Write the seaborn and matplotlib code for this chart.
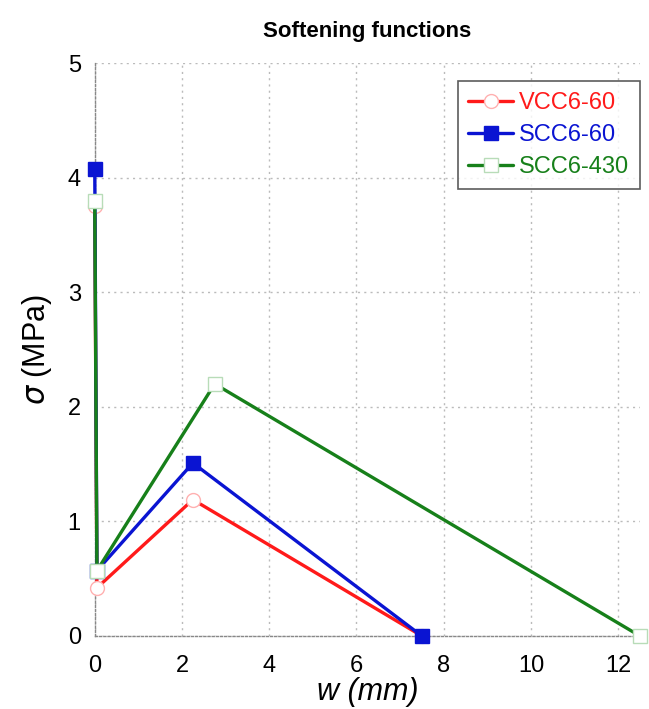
import matplotlib
matplotlib.use("Agg")
import matplotlib.pyplot as plt
import seaborn as sns
import pandas as pd

# Data
series_names = ["VCC6-60", "SCC6-60", "SCC6-430"]
w_vcc = [0.0, 0.05, 2.25, 7.5]
s_vcc = [3.75, 0.42, 1.19, 0.0]
w_scc60 = [0.0, 0.05, 2.25, 7.5]
s_scc60 = [4.08, 0.57, 1.51, 0.0]
w_scc430 = [0.0, 0.05, 2.75, 12.5]
s_scc430 = [3.80, 0.57, 2.20, 0.0]
x_ticks = [0, 2, 4, 6, 8, 10, 12]
y_ticks = [0, 1, 2, 3, 4, 5]

sns.set_theme(style="white")
plt.rcParams['font.family'] = ['Liberation Sans', 'DejaVu Sans']
plt.rcParams['text.color'] = 'black'
plt.rcParams['axes.labelcolor'] = 'black'

fig = plt.figure(figsize=(6.49, 7.09), dpi=100)
ax = fig.add_axes([0.146, 0.103, 0.84, 0.808])

styles = [
    dict(color="#ff1a1a", marker="o", mfc="white", mec="#ffb0b0"),
    dict(color="#0a14d2", marker="s", mfc="#0a14d2", mec="#0a14d2"),
    dict(color="#17801a", marker="s", mfc="white", mec="#b8dcb8"),
]
data = [(w_vcc, s_vcc), (w_scc60, s_scc60), (w_scc430, s_scc430)]

for name, (wx, sy), st in zip(series_names, data, styles):
    df = pd.DataFrame({"w": wx, "s": sy})
    sns.lineplot(data=df, x="w", y="s", ax=ax, sort=False, estimator=None,
                 color=st["color"], linewidth=2.4, marker=st["marker"],
                 markersize=10, markerfacecolor=st["mfc"],
                 markeredgecolor=st["mec"], markeredgewidth=1.0,
                 label=name, clip_on=False, zorder=3)

ax.set_xlim(0, 12.5)
ax.set_ylim(0, 5)
ax.set_xticks(x_ticks)
ax.set_yticks(y_ticks)
ax.tick_params(axis="both", labelsize=17, length=0, colors="black")
ax.tick_params(axis="x", pad=14)
ax.tick_params(axis="y", pad=10)
ax.grid(True, linestyle=(0, (1.5, 3)), color="#bbbbbb", linewidth=1.0)
for sp in ["top", "right"]:
    ax.spines[sp].set_visible(False)
for sp in ["left", "bottom"]:
    ax.spines[sp].set_linestyle((0, (1.5, 1.5)))
    ax.spines[sp].set_color("#888888")
    ax.spines[sp].set_linewidth(1.0)

ax.set_xlabel("w (mm)", fontsize=22, fontstyle="italic", labelpad=0)
ax.set_ylabel(r"$\it{\sigma}$ (MPa)", fontsize=22, labelpad=10)
ax.set_title("Softening functions", fontsize=16, fontweight="bold", pad=19,
             color="black")

leg = ax.legend(loc="upper right", fontsize=17, frameon=True, fancybox=False,
                edgecolor="#333333", handlelength=1.9, handletextpad=0.25,
                borderpad=0.45, labelspacing=0.42, borderaxespad=0,
                bbox_to_anchor=(1.0, 0.968))
leg.get_frame().set_linewidth(1.2)
for txt, st in zip(leg.get_texts(), styles):
    txt.set_color(st["color"])

fig.savefig("out.png", dpi=100)
